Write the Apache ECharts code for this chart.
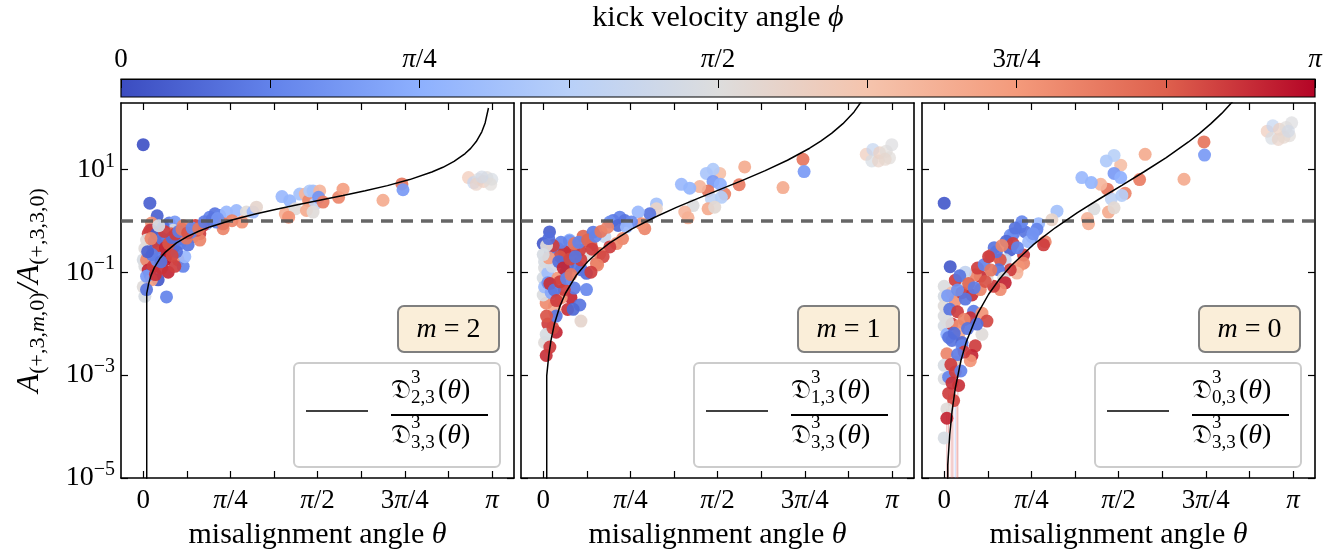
<!DOCTYPE html>
<html>
<head>
<meta charset="utf-8">
<script src="https://cdn.jsdelivr.net/npm/echarts@6/dist/echarts.min.js"></script>
<style>
  html, body { margin: 0; padding: 0; background: #fff; }
  #chart { width: 1335px; height: 555px; }
</style>
</head>
<body>
<div id="chart"></div>
<script>
const PI = Math.PI;

// tick values / labels
const thetaTicks = [0, PI / 8, PI / 4, 3 * PI / 8, PI / 2, 5 * PI / 8, 3 * PI / 4, 7 * PI / 8, PI];
const thetaLabelVals = [0, PI / 4, PI / 2, 3 * PI / 4, PI];
const thetaLabelText = ['0', '{i|π}/4', '{i|π}/2', '3{i|π}/4', '{i|π}'];
const ampTicks = [1e-5, 1e-3, 1e-1, 10];
const modes = [2, 1, 0];

// coolwarm colour map
const coolwarm = ['#3b4cc0', '#6282ea', '#8db0fe', '#b8d0f9', '#dddddd', '#f5c4ad', '#f49a7b', '#de604d', '#b40426'];

// [theta, A ratio, phi]
const pointsM2 = [
  [0, 30, 0.05], [0.06, 2.19, 0.15], [0.126, 1.25, 0.15], [0.075, 0.90, 2.4], [0.234, 0.90, 0.35],
  [0.075, 0.65, 0.2], [0.06, 0.65, 2.9], [0.165, 0.65, 2.9], [0.33, 0.70, 2.8], [0.39, 0.70, 1.55],
  [0.42, 0.52, 2.5], [0.51, 0.56, 2.9], [0.51, 0.42, 2.5], [0.60, 1.17, 0.4], [0.646, 1.36, 0.3],
  [0.69, 1.26, 0.4], [0.72, 0.70, 2.5], [0.66, 0.94, 0.4], [0.57, 0.87, 0.8], [0.54, 0.81, 2.9],
  [0.75, 1.47, 0.9], [0.84, 1.58, 0.9], [0.93, 1.47, 1.6], [0.89, 0.94, 2.4], [0.99, 1.47, 0.9],
  [1.02, 1.83, 1.7], [0.80, 1.0, 2.5], [0.72, 0.87, 2.6], [0.36, 0.56, 0.3], [0.47, 0.81, 2.9],
  [0.285, 0.94, 0.6], [1.25, 2.95, 0.9], [1.32, 2.45, 0.85], [1.28, 1.36, 2.2], [1.29, 1.26, 2.1],
  [1.37, 1.70, 1.6], [1.41, 3.3, 1.0], [1.46, 3.3, 2.1], [1.49, 2.45, 2.5], [1.50, 3.8, 1.1],
  [1.53, 3.8, 1.0], [1.59, 3.8, 2.1], [1.55, 2.13, 1.3], [1.58, 2.85, 0.55], [1.62, 2.3, 2.55],
  [1.47, 1.58, 2.2], [1.53, 1.47, 1.6], [1.76, 2.85, 2.5], [1.80, 4.1, 2.3], [2.16, 2.5, 2.2],
  [2.33, 5.2, 2.6], [2.34, 4.0, 0.6], [1.31, 1.17, 2.4],
  [0.06, 0.36, 1.55], [0.015, 0.29, 1.6], [0, 0.174, 1.5], [0.015, 0.13, 1.55], [0, 0.052, 1.6],
  [0.015, 0.034, 1.5], [0.03, 0.174, 2.5], [0.045, 0.11, 3.0], [0.06, 0.089, 0.2], [0.09, 0.13, 2.9],
  [0.135, 0.071, 0.1], [0.105, 0.23, 2.95], [0.15, 0.27, 0.4], [0.18, 0.36, 0.25], [0.225, 0.49, 2.85],
  [0.255, 0.39, 0.2], [0.30, 0.42, 0.3], [0.345, 0.45, 0.15], [0.21, 0.20, 3.0], [0.24, 0.23, 2.9],
  [0.315, 0.174, 2.5], [0.36, 0.13, 0.4], [0.375, 0.20, 0.9], [0.225, 0.10, 3.0], [0.285, 0.13, 2.9],
  [0.12, 0.174, 0.5], [0.09, 0.31, 2.4], [0.045, 0.56, 2.9], [0.03, 0.42, 1.6], [0.135, 0.49, 1.4],
  [0.195, 0.174, 3.05], [0.165, 0.12, 2.95], [0.45, 0.49, 2.5], [0.48, 0.65, 2.8], [0.405, 0.34, 0.3],
  [0.075, 0.071, 2.3], [0.03, 0.083, 0.6], [0.03, 0.046, 0.3], [0.27, 0.65, 1.5], [0.18, 0.76, 0.25],
  [0.21, 0.033, 0.4], [0.27, 0.30, 2.95], [0.33, 0.36, 0.35], [0.39, 0.46, 2.6], [0.30, 0.25, 0.25],
  [0.25, 0.56, 2.7], [0.43, 0.60, 0.4], [0.36, 0.80, 2.5], [0.20, 0.55, 1.2],
  [0.10, 0.40, 0.2], [0.12, 0.55, 0.1], [0.14, 0.33, 2.9], [0.17, 0.45, 0.3], [0.20, 0.30, 3.0],
  [0.23, 0.36, 2.8], [0.26, 0.47, 0.25], [0.29, 0.55, 2.9], [0.32, 0.62, 0.35], [0.35, 0.68, 2.6],
  [0.40, 0.58, 2.8], [0.44, 0.72, 0.45], [0.50, 0.70, 2.6], [0.55, 0.95, 0.35], [0.62, 1.05, 0.3],
  [0.67, 1.10, 0.55], [0.08, 0.22, 0.35], [0.11, 0.09, 2.95], [0.16, 0.16, 0.3], [0.26, 0.21, 2.85],
  [0.04, 0.25, 0.15], [0.07, 0.45, 2.5], [0.19, 0.62, 2.9], [0.14, 0.80, 1.5]
];
const clusterM2 = [
  [2.93, 6.9, 1.9], [2.976, 5.5, 1.3], [3.02, 6.4, 1.55], [3.066, 5.8, 1.85], [3.096, 6.9, 1.6],
  [3.14, 6.4, 1.5], [3.0, 5.1, 1.75], [3.13, 5.1, 1.6], [3.05, 7.1, 1.45]
];

const pointsM1 = [
  [2.34, 15.6, 2.6], [2.35, 9.0, 0.6], [2.16, 4.4, 2.2], [1.815, 11.1, 2.2], [1.765, 5.0, 2.55],
  [1.635, 3.3, 2.5], [1.59, 8.3, 2.0], [1.53, 10, 1.1], [1.47, 8.3, 1.05], [1.53, 5.8, 0.6],
  [1.596, 5.1, 0.8], [1.485, 3.8, 2.6], [1.41, 4.6, 2.1], [1.245, 5.1, 0.9], [1.32, 4.3, 0.85],
  [1.515, 2.65, 1.25], [1.605, 2.85, 1.15], [1.35, 1.97, 1.55], [1.275, 1.47, 2.1], [1.305, 1.14, 2.15],
  [1.485, 1.70, 2.2], [1.545, 1.83, 1.65], [1.02, 2.12, 1.0], [1.02, 1.70, 1.75], [0.96, 1.36, 0.3],
  [0.855, 1.47, 0.9], [0.915, 0.70, 2.5], [0.885, 0.875, 2.4], [0.69, 1.17, 0.4], [0.63, 1.01, 0.35],
  [0.735, 1.01, 0.3], [0.795, 0.94, 0.45], [0.60, 0.94, 0.5], [0.675, 0.81, 0.2], [0.75, 0.76, 0.9],
  [0.555, 0.49, 1.35], [0.715, 0.45, 2.5], [0.66, 0.36, 2.45], [0.60, 0.31, 2.9], [0.51, 0.23, 2.5],
  [0.48, 0.148, 2.6], [0.54, 0.20, 2.85], [0.43, 0.335, 2.8], [0.39, 0.23, 1.6], [0.33, 0.27, 2.9],
  [0.057, 0.605, 0.15], [0, 0.36, 0.1], [0.117, 0.29, 0.3], [0.237, 0.42, 0.75], [0.19, 0.23, 3.0],
  [0.27, 0.27, 2.9], [0.39, 0.095, 0.25], [0.345, 0.111, 0.3], [0.49, 0.138, 2.5], [0.237, 0.40, 0.55],
  [0.066, 0.25, 0.2], [0.132, 0.29, 0.35], [0.192, 0.25, 2.95], [0.102, 0.173, 0.85], [0.012, 0.12, 1.55],
  [0, 0.077, 1.5], [0.042, 0.096, 0.95], [0.132, 0.077, 2.35], [0.207, 0.103, 0.2], [0.31, 0.128, 0.3],
  [0.34, 0.173, 2.9], [0.39, 0.046, 0.45], [0.25, 0.032, 3.0], [0.22, 0.0188, 2.95], [0.102, 0.022, 2.5],
  [0.102, 0.0174, 2.1], [0.027, 0.025, 2.45], [0, 0.036, 1.55], [0.012, 0.052, 0.95], [0.162, 0.032, 2.35],
  [0.33, 0.023, 0.3], [0.27, 0.019, 0.2], [0.34, 0.0112, 1.7], [0.042, 0.0098, 2.9], [0.117, 0.0068, 3.0],
  [0.012, 0.0043, 1.6], [0.027, 0.0062, 1.5], [0.027, 0.0024, 2.95], [0.087, 0.0083, 2.85], [0.117, 0.014, 0.3],
  [0.012, 0.16, 1.5], [0.042, 0.062, 0.5], [0.28, 0.049, 0.35], [0.43, 0.10, 2.9], [0.177, 0.16, 2.9],
  [0.072, 0.04, 0.7], [0.19, 0.046, 2.9], [0.15, 0.20, 2.8], [0.08, 0.13, 1.45], [0.22, 0.14, 0.25],
  [0.05, 0.19, 2.3], [0.28, 0.36, 2.6], [0.16, 0.38, 0.4], [0.36, 0.5, 2.7], [0.45, 0.6, 0.35],
  [0.09, 0.33, 2.9], [0.14, 0.16, 0.25], [0.18, 0.12, 3.0], [0.24, 0.18, 2.85], [0.29, 0.20, 0.3],
  [0.06, 0.06, 2.95], [0.10, 0.045, 0.3], [0.15, 0.065, 2.9], [0.21, 0.075, 0.4], [0.25, 0.09, 2.6],
  [0.12, 0.028, 2.9], [0.03, 0.014, 2.8], [0.06, 0.0035, 2.9], [0.03, 0.33, 1.6], [0, 0.22, 1.5],
  [0.05, 0.45, 0.25], [0.32, 0.38, 0.4], [0.40, 0.42, 2.7], [0.47, 0.50, 0.4], [0.52, 0.62, 2.6],
  [0.58, 0.75, 2.5], [0.44, 0.28, 2.9]
];
const clusterM1 = [
  [2.91, 19.5, 1.85], [2.97, 24.3, 1.3], [2.96, 14.5, 1.5], [3.03, 20.9, 1.8], [3.02, 14.5, 1.75],
  [3.09, 22.5, 1.6], [3.14, 30, 1.55], [3.12, 16.7, 1.6], [3.08, 15.6, 1.7]
];

const pointsM0 = [
  [2.34, 34, 2.6], [2.345, 18.9, 0.6], [1.81, 19.5, 2.2], [2.16, 6.4, 2.2], [1.76, 6.3, 2.55],
  [1.63, 3.4, 2.5], [1.59, 12, 2.0], [1.53, 18.6, 1.2], [1.46, 14.5, 1.1], [1.53, 8.3, 0.6],
  [1.59, 6.9, 0.8], [1.47, 4.1, 2.6], [1.41, 5.1, 2.1], [1.24, 6.9, 0.9], [1.325, 5.5, 0.85],
  [1.505, 2.65, 1.25], [1.60, 3.1, 1.15], [1.35, 1.70, 1.55], [1.29, 1.10, 2.1], [1.30, 0.875, 2.15],
  [1.48, 1.47, 2.2], [1.53, 1.78, 1.65], [1.016, 1.53, 1.0], [0.97, 1.05, 1.75], [0, 2.19, 0.1],
  [0.85, 0.875, 0.9], [0.91, 0.39, 2.5], [0.895, 0.34, 2.9], [0.685, 0.76, 0.4], [0.625, 0.56, 0.35],
  [0.73, 0.605, 0.3], [0.79, 0.485, 0.45], [0.595, 0.52, 0.5], [0.835, 0.68, 0.4], [0.76, 0.39, 0.9],
  [0.595, 0.27, 0.15], [0.55, 0.174, 1.35], [0.715, 0.215, 2.9], [0.715, 0.149, 2.5], [0.67, 0.128, 2.4],
  [0.655, 0.096, 2.1], [0.595, 0.111, 2.9], [0.505, 0.174, 2.8], [0.49, 0.111, 0.3], [0.535, 0.077, 1.55],
  [0.55, 0.062, 3.0], [0.505, 0.046, 2.45], [0.445, 0.053, 2.9], [0.385, 0.077, 1.6], [0.325, 0.083, 2.95],
  [0.28, 0.089, 2.5], [0.054, 0.128, 0.1], [0.19, 0.10, 1.3], [0.19, 0.066, 1.5], [0, 0.053, 1.55],
  [0, 0.034, 1.5], [0, 0.022, 1.6], [0, 0.014, 1.55], [0, 0.009, 1.5], [0.07, 0.04, 2.0],
  [0.10, 0.0275, 2.4], [0.16, 0.04, 2.9], [0.25, 0.036, 2.95], [0.325, 0.046, 2.5], [0.37, 0.066, 2.8],
  [0.19, 0.030, 0.3], [0.265, 0.0174, 0.35], [0.235, 0.013, 2.95], [0.34, 0.016, 2.4], [0.385, 0.0112, 2.85],
  [0.024, 0.0062, 0.8], [0.07, 0.0098, 2.9], [0.13, 0.009, 2.45], [0.13, 0.0062, 2.2], [0.07, 0.0047, 0.3],
  [0.16, 0.0043, 0.2], [0.28, 0.0037, 2.9], [0.25, 0.0024, 3.0], [0.235, 0.0019, 2.4], [0.34, 0.0062, 1.6],
  [0.024, 0.0026, 2.5], [0, 0.00155, 1.5], [0.10, 0.0018, 1.75], [0, 0.00085, 1.55], [0.04, 0.00091, 0.4],
  [0.10, 0.00115, 2.9], [0.13, 0.00063, 2.95], [0.04, 0.00044, 2.9], [0.085, 0.00032, 2.85], [0.024, 0.00022, 1.6],
  [0.024, 0.000145, 3.0], [0, 0.00006, 1.5], [0.04, 0.0054, 0.3], [0.16, 0.0037, 0.4], [0.295, 0.0098, 0.25],
  [0.70, 0.95, 0.45], [0.64, 0.72, 0.3], [0.56, 0.40, 0.2], [0.80, 0.56, 0.55], [0.45, 0.30, 0.3],
  [0.42, 0.21, 2.7], [0.62, 0.36, 2.9],
  [0.10, 0.07, 2.9], [0.14, 0.085, 0.3], [0.22, 0.06, 2.7], [0.27, 0.05, 0.35], [0.30, 0.12, 2.9],
  [0.36, 0.14, 0.4], [0.42, 0.11, 2.6], [0.47, 0.25, 0.3], [0.40, 0.20, 2.9], [0.05, 0.019, 0.3],
  [0.12, 0.017, 2.9], [0.18, 0.012, 2.5], [0.21, 0.008, 0.3], [0.09, 0.0065, 0.25], [0.18, 0.0028, 2.9],
  [0.12, 0.0025, 0.35], [0.06, 0.0016, 2.9], [0.15, 0.0012, 0.4], [0.07, 0.0007, 2.95], [0.03, 0.035, 0.6],
  [0.03, 0.011, 1.55], [0.12, 0.045, 0.5], [0.52, 0.33, 2.5], [0.66, 0.30, 0.4]
];
const clusterM0 = [
  [2.91, 55, 1.85], [2.96, 70, 1.3], [2.95, 40, 1.5], [3.02, 60, 1.8], [3.01, 38, 1.75],
  [3.08, 65, 1.6], [3.13, 80, 1.55], [3.11, 45, 1.6], [3.06, 42, 1.7], [3.1, 55, 1.45]
];
// [theta, upper, phi, lower] error bars reaching the floor
const errM0 = [
  [0.024, 0.00022, 2.9, 1e-6], [0.039, 0.00044, 2.85, 1e-6], [0.063, 0.0003, 2.8, 1e-6],
  [0.078, 0.00032, 2.9, 1e-6], [0.099, 0.00025, 0.6, 1e-6], [0.114, 0.00035, 2.7, 1e-6],
  [0.123, 0.0005, 2.9, 1e-6]
];

// D^3_{m,3}/D^3_{3,3} curves [theta, ratio]
const curveM2 = [
  [0.0317, 1e-8], [0.0317, 0.0388], [0.05, 0.0612], [0.07, 0.0858], [0.1, 0.1226], [0.15, 0.184],
  [0.2, 0.2457], [0.3, 0.3701], [0.4, 0.4965], [0.5, 0.6254], [0.6, 0.7576], [0.8, 1.0357],
  [1.0, 1.3382], [1.2, 1.6757], [1.4, 2.0632], [1.6, 2.522], [1.8, 3.0868], [2.0, 3.8149],
  [2.2, 4.8128], [2.4, 6.3006], [2.6, 8.8234], [2.7, 10.92], [2.8, 14.2], [2.9, 20.18],
  [2.95, 25.49], [3.0, 34.54], [3.05, 53.45], [3.08, 79.51], [3.11, 155]
];
const curveM1 = [
  [0.0317, 1e-8], [0.0317, 0.00097], [0.05, 0.00242], [0.07, 0.00474], [0.1, 0.0097], [0.15, 0.02184],
  [0.2, 0.03896], [0.3, 0.08843], [0.4, 0.1591], [0.5, 0.2524], [0.6, 0.3705], [0.8, 0.6923],
  [1.0, 1.1559], [1.2, 1.8125], [1.4, 2.7478], [1.6, 4.1057], [1.8, 6.1507], [2.0, 9.394],
  [2.2, 14.95], [2.4, 25.63], [2.5, 35.08], [2.6, 50.25], [2.7, 76.9], [2.8, 130.2], [2.9, 262.8]
];
const curveM0 = [
  [0.0317, 1e-8], [0.0317, 1.78e-5], [0.05, 6.99e-5], [0.07, 1.92e-4], [0.1, 5.6e-4], [0.15, 1.894e-3],
  [0.2, 4.512e-3], [0.3, 0.01543], [0.4, 0.03725], [0.5, 0.07442], [0.6, 0.1323], [0.8, 0.338],
  [1.0, 0.7291], [1.2, 1.4318], [1.4, 2.6725], [1.6, 4.8813], [1.8, 8.95], [2.0, 16.89],
  [2.2, 33.92], [2.3, 49.94], [2.4, 76.11], [2.5, 121.9], [2.6, 209]
];

const panelPoints = [pointsM2, pointsM1, pointsM0];
const panelClusters = [clusterM2, clusterM1, clusterM0];
const panelCurves = [curveM2, curveM1, curveM0];
const fracSubs = ['2,3', '1,3', '0,3'];

const FONT = 'Liberation Serif';
const panelLeft = [121, 521, 922];
const panelW = 393, panelTop = 103, panelH = 380;
const xMin = -0.2, xMax = 3.34, yMin = 1e-5, yMax = 194;

function thetaFmt(v) {
  let k = 0;
  thetaLabelVals.forEach(function (t, i) { if (Math.abs(t - v) < 1e-6) k = i; });
  return thetaLabelText[k];
}
function powFmt(v) {
  const e = Math.round(Math.log10(v));
  return '{b|10}{s|' + (e < 0 ? '\u2212' + (-e) : e) + '}';
}
const tickStyle = { show: true, inside: true, length: 7, lineStyle: { color: '#000', width: 1.2 } };
const lineStyle = { show: true, onZero: false, lineStyle: { color: '#000', width: 1.6 } };
const italic = { fontFamily: FONT, fontStyle: 'italic', fontSize: 27, color: '#000' };
const nameStyle = { fontFamily: FONT, fontSize: 30, color: '#000', rich: { i: Object.assign({}, italic, { fontSize: 30 }) } };

const grids = [], xAxes = [], yAxes = [], series = [], graphics = [], mappedSeries = [];

panelLeft.forEach(function (left, p) {
  grids.push({ left: left, top: panelTop, width: panelW, height: panelH });
  // bottom + top x axes
  xAxes.push({
    gridIndex: p, type: 'value', min: xMin, max: xMax, position: 'bottom',
    axisLine: lineStyle, splitLine: { show: false },
    axisTick: Object.assign({ customValues: thetaTicks }, tickStyle),
    axisLabel: {
      customValues: thetaLabelVals, formatter: thetaFmt, margin: 9,
      fontFamily: FONT, fontSize: 27, color: '#000',
      rich: { i: italic }
    },
    name: 'misalignment angle {i|θ}', nameLocation: 'middle', nameGap: 42,
    nameTextStyle: nameStyle
  });
  xAxes.push({
    gridIndex: p, type: 'value', min: xMin, max: xMax, position: 'top',
    axisLine: lineStyle, splitLine: { show: false },
    axisTick: Object.assign({ customValues: thetaTicks }, tickStyle),
    axisLabel: { show: false }
  });
  yAxes.push({
    gridIndex: p, type: 'log', logBase: 10, min: yMin, max: yMax, position: 'left',
    axisLine: lineStyle, splitLine: { show: false }, minorTick: { show: false },
    axisTick: Object.assign({ customValues: ampTicks }, tickStyle),
    axisLabel: {
      show: p === 0, customValues: ampTicks, formatter: powFmt, margin: 6,
      fontFamily: FONT, fontSize: 28, color: '#000',
      rich: {
        b: { fontFamily: FONT, fontSize: 28, lineHeight: 36, verticalAlign: 'middle', color: '#000' },
        s: { fontFamily: FONT, fontSize: 20, lineHeight: 20, verticalAlign: 'top', color: '#000' }
      }
    },
    name: p === 0 ? '{a|A}{s|(+,3,}{si|m}{s|,0)}{a|/}{a|A}{s|(+,3,3,0)}' : '',
    nameLocation: 'middle', nameRotate: 90, nameGap: 72,
    nameTextStyle: {
      fontFamily: FONT, fontSize: 31, color: '#000',
      rich: {
        a: { fontFamily: FONT, fontStyle: 'italic', fontSize: 31, lineHeight: 38, verticalAlign: 'middle', color: '#000' },
        s: { fontFamily: FONT, fontSize: 22, lineHeight: 22, verticalAlign: 'bottom', color: '#000' },
        si: { fontFamily: FONT, fontStyle: 'italic', fontSize: 22, lineHeight: 22, verticalAlign: 'bottom', color: '#000' }
      }
    }
  });
  yAxes.push({
    gridIndex: p, type: 'log', logBase: 10, min: yMin, max: yMax, position: 'right',
    axisLine: lineStyle, splitLine: { show: false }, minorTick: { show: false },
    axisTick: Object.assign({ customValues: ampTicks }, tickStyle),
    axisLabel: { show: false }
  });

  mappedSeries.push(series.length);
  series.push({
    type: 'scatter', xAxisIndex: 2 * p, yAxisIndex: 2 * p, data: panelPoints[p],
    symbolSize: 13, itemStyle: { opacity: 0.92 }, z: 2, silent: true
  });
  mappedSeries.push(series.length);
  series.push({
    type: 'scatter', xAxisIndex: 2 * p, yAxisIndex: 2 * p, data: panelClusters[p],
    symbolSize: 13, itemStyle: { opacity: 0.7 }, z: 2, silent: true
  });
  if (p === 2) {
    mappedSeries.push(series.length);
    series.push({
      type: 'custom', xAxisIndex: 2 * p, yAxisIndex: 2 * p, data: errM0, clip: true, z: 1, silent: true,
      encode: { x: 0, y: 1 },
      renderItem: function (params, api) {
        const hi = api.coord([api.value(0), api.value(1)]);
        const lo = api.coord([api.value(0), api.value(3)]);
        return {
          type: 'line', shape: { x1: hi[0], y1: hi[1], x2: lo[0], y2: lo[1] },
          style: { stroke: api.visual('color'), lineWidth: 1, opacity: 0.4 }
        };
      }
    });
  }
  series.push({
    type: 'line', xAxisIndex: 2 * p, yAxisIndex: 2 * p, data: panelCurves[p],
    showSymbol: false, symbol: 'none', clip: true, z: 5, silent: true,
    lineStyle: { color: '#000', width: 1.5 },
    markLine: {
      silent: true, symbol: ['none', 'none'], label: { show: false },
      lineStyle: { color: '#555', width: 3.5, type: [12, 8], opacity: 0.9 },
      data: [{ yAxis: 1 }]
    }
  });

  // legend boxes
  const R = left + panelW;
  graphics.push(
    { type: 'rect', z: 100, shape: { x: R - 116, y: 306, width: 101, height: 46, r: 6 },
      style: { fill: '#faeed9', stroke: '#7f7f7f', lineWidth: 2 } },
    { type: 'text', z: 101, x: R - 65.5, y: 330,
      style: { text: '{i|m} = ' + modes[p], fontFamily: FONT, fontSize: 28, fill: '#000', align: 'center', verticalAlign: 'middle',
        rich: { i: { fontFamily: FONT, fontStyle: 'italic', fontSize: 28, fill: '#000' } } } },
    { type: 'rect', z: 100, shape: { x: R - 220, y: 363, width: 206, height: 104, r: 5 },
      style: { fill: '#fff', stroke: '#cccccc', lineWidth: 2 } },
    { type: 'line', z: 101, shape: { x1: R - 208, y1: 411, x2: R - 146, y2: 411 }, style: { stroke: '#000', lineWidth: 1.5 } },
    { type: 'line', z: 101, shape: { x1: R - 123, y1: 415, x2: R - 26, y2: 415 }, style: { stroke: '#000', lineWidth: 1.8 } }
  );
  [[391, fracSubs[p]], [436, '3,3']].forEach(function (row) {
    const cy = row[0];
    graphics.push(
      { type: 'text', z: 101, x: R - 123, y: cy,
        style: { text: '𝔇', fontFamily: FONT, fontSize: 27, fill: '#000', align: 'left', verticalAlign: 'middle' } },
      { type: 'text', z: 101, x: R - 103, y: cy - 13,
        style: { text: '3', fontFamily: FONT, fontSize: 19, fill: '#000', align: 'left', verticalAlign: 'middle' } },
      { type: 'text', z: 101, x: R - 103, y: cy + 7,
        style: { text: row[1], fontFamily: FONT, fontSize: 19, fill: '#000', align: 'left', verticalAlign: 'middle' } },
      { type: 'text', z: 101, x: R - 76, y: cy,
        style: { text: '({i|θ})', fontFamily: FONT, fontSize: 28, fill: '#000', align: 'left', verticalAlign: 'middle',
          rich: { i: { fontFamily: FONT, fontStyle: 'italic', fontSize: 28, fill: '#000' } } } }
    );
  });
});

// colour bar
grids.push({
  left: 121, top: 79, width: 1194, height: 18, show: true, borderColor: '#000', borderWidth: 1.2,
  backgroundColor: new echarts.graphic.LinearGradient(0, 0, 1, 0,
    coolwarm.map(function (c, i) { return { offset: i / (coolwarm.length - 1), color: c }; }))
});
xAxes.push({
  gridIndex: 3, type: 'value', min: 0, max: PI, position: 'top',
  axisLine: { show: true, onZero: false, lineStyle: { color: '#000', width: 1.2 } },
  splitLine: { show: false },
  axisTick: { show: true, inside: true, length: 9, customValues: thetaTicks, lineStyle: { color: '#000', width: 1 } },
  axisLabel: {
    customValues: thetaLabelVals, formatter: thetaFmt, margin: 6,
    fontFamily: FONT, fontSize: 27, color: '#000', rich: { i: italic }
  },
  name: 'kick velocity angle {i|ϕ}', nameLocation: 'middle', nameGap: 46,
  nameTextStyle: nameStyle
});
yAxes.push({ gridIndex: 3, type: 'value', min: 0, max: 1, show: false });

const chart = echarts.init(document.getElementById('chart'), null, { renderer: 'canvas' });
chart.setOption({
  animation: false,
  backgroundColor: '#fff',
  grid: grids,
  xAxis: xAxes,
  yAxis: yAxes,
  visualMap: {
    show: false, type: 'continuous', dimension: 2, min: 0, max: PI,
    seriesIndex: mappedSeries, inRange: { color: coolwarm }
  },
  graphic: graphics,
  series: series
});
</script>
</body>
</html>
